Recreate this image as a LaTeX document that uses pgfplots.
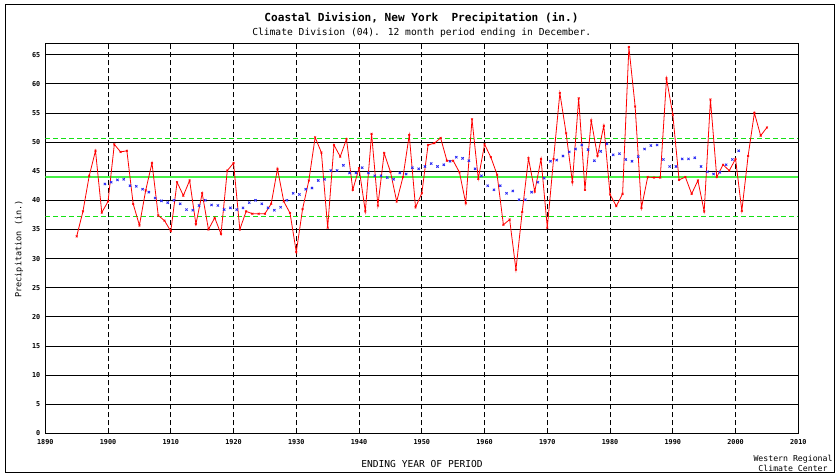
\documentclass[border=0pt]{standalone}
\usepackage{pgfplots}
\pgfplotsset{compat=1.18}
\usepackage{fontspec}
\setmainfont{DejaVu Sans Mono}
\definecolor{grn}{RGB}{20,225,20}
\definecolor{grnsolid}{RGB}{70,240,70}
\definecolor{bl}{RGB}{40,40,245}
\pgfplotstableread{
year val
1895 33.8
1896 38.1
1897 44.2
1898 48.5
1899 37.9
1900 39.8
1901 49.6
1902 48.3
1903 48.5
1904 39.4
1905 35.7
1906 41.7
1907 46.4
1908 37.4
1909 36.5
1910 34.7
1911 43.1
1912 40.8
1913 43.4
1914 35.9
1915 41.2
1916 35.0
1917 37.0
1918 34.2
1919 45.1
1920 46.4
1921 35.0
1922 38.1
1923 37.7
1924 37.7
1925 37.7
1926 39.4
1927 45.4
1928 39.8
1929 37.8
1930 31.1
1931 38.5
1932 43.4
1933 50.8
1934 48.2
1935 35.3
1936 49.5
1937 47.5
1938 50.5
1939 41.8
1940 45.5
1941 38.1
1942 51.4
1943 39.1
1944 48.1
1945 44.9
1946 39.8
1947 44.0
1948 51.2
1949 38.8
1950 41.2
1951 49.5
1952 49.8
1953 50.7
1954 46.8
1955 46.8
1956 44.8
1957 39.5
1958 53.9
1959 43.7
1960 49.6
1961 47.4
1962 44.4
1963 35.8
1964 36.7
1965 28.1
1966 38.0
1967 47.2
1968 41.5
1969 47.1
1970 35.3
1971 47.1
1972 58.4
1973 51.5
1974 43.1
1975 57.5
1976 41.8
1977 53.7
1978 47.6
1979 52.8
1980 41.0
1981 39.0
1982 41.1
1983 66.3
1984 56.1
1985 38.7
1986 44.0
1987 43.9
1988 43.9
1989 60.9
1990 54.7
1991 43.5
1992 44.0
1993 41.1
1994 43.4
1995 38.1
1996 57.3
1997 44.0
1998 46.1
1999 45.1
2000 47.1
2001 38.2
2002 47.6
2003 55.0
2004 51.1
2005 52.5
}\annual
\pgfplotstableread{
year val
1899.5 42.8
1900.5 43.1
1901.5 43.5
1902.5 43.6
1903.5 42.5
1904.5 42.4
1905.5 41.9
1906.5 41.4
1907.5 40.4
1908.5 39.9
1909.5 39.6
1910.5 40.0
1911.5 39.4
1912.5 38.4
1913.5 38.3
1914.5 39.1
1915.5 40.0
1916.5 39.2
1917.5 39.1
1918.5 38.4
1919.5 38.7
1920.5 38.4
1921.5 38.7
1922.5 39.6
1923.5 40.0
1924.5 39.4
1925.5 38.7
1926.5 38.3
1927.5 38.8
1928.5 40.0
1929.5 41.2
1930.5 41.0
1931.5 41.9
1932.5 42.1
1933.5 43.4
1934.5 43.6
1935.5 45.1
1936.5 45.1
1937.5 46.0
1938.5 44.7
1939.5 44.7
1940.5 45.6
1941.5 44.7
1942.5 44.2
1943.5 44.2
1944.5 43.9
1945.5 43.6
1946.5 44.7
1947.5 44.5
1948.5 45.6
1949.5 45.4
1950.5 45.8
1951.5 46.3
1952.5 45.8
1953.5 46.1
1954.5 46.7
1955.5 47.4
1956.5 47.2
1957.5 46.8
1958.5 45.4
1959.5 44.2
1960.5 42.5
1961.5 41.8
1962.5 42.5
1963.5 41.2
1964.5 41.6
1965.5 40.1
1966.5 40.1
1967.5 41.4
1968.5 43.1
1969.5 43.8
1970.5 46.7
1971.5 46.9
1972.5 47.6
1973.5 48.3
1974.5 48.8
1975.5 49.5
1976.5 48.7
1977.5 46.8
1978.5 48.4
1979.5 49.7
1980.5 47.8
1981.5 48.0
1982.5 47.0
1983.5 46.7
1984.5 47.5
1985.5 48.8
1986.5 49.4
1987.5 49.5
1988.5 47.0
1989.5 45.8
1990.5 45.8
1991.5 47.1
1992.5 47.1
1993.5 47.3
1994.5 45.8
1995.5 44.9
1996.5 44.5
1997.5 44.8
1998.5 46.1
1999.5 47.0
2000.5 48.5
}\running
\begin{document}
\begin{tikzpicture}[x=1pt,y=1pt]
\useasboundingbox (0,0) rectangle (835,-474);
\draw[black, line width=1pt] (5.7,-4.3) rectangle (834.5,-472.7);
\node[font=\fontsize{11.1}{13}\selectfont\bfseries] at (421.5,-18.3) {Coastal Division, New York\ \ Precipitation (in.)};
\node[font=\fontsize{9.65}{11}\selectfont] at (421.7,-33.3) {Climate Division (04). 12 month period ending in December.};
\node[font=\fontsize{9.6}{11}\selectfont] at (422,-464) {ENDING YEAR OF PERIOD};
\node[font=\fontsize{8.5}{10}\selectfont, rotate=90] at (19,-249) {Precipitation (in.)};
\node[font=\fontsize{8.2}{9}\selectfont] at (793,-459.3) {Western Regional};
\node[font=\fontsize{8.2}{9}\selectfont] at (793,-468.3) {Climate Center};
\begin{axis}[
  at={(45.3pt,-433.3pt)}, anchor=south west,
  scale only axis, width=753pt, height=390.3pt,
  xmin=1890, xmax=2010, ymin=0, ymax=67,
  xtick={1890,1900,...,2010}, ytick={0,5,...,65},
  /pgf/number format/.cd, 1000 sep={}, assume math mode=true, /pgfplots/.cd,
  major tick length=0pt,
  ticklabel style={font=\fontsize{6.8}{8}\selectfont\bfseries},
  xticklabel style={yshift=-2.5pt},
  yticklabel style={xshift=-1.5pt},
  axis line style={black, line width=0.9pt},
  xmajorgrids, ymajorgrids,
  x grid style={black, line width=0.8pt, dash pattern=on 5pt off 3pt},
  y grid style={black, line width=0.8pt},
  clip=true,
]
\addplot[grnsolid, line width=1.6pt, forget plot] coordinates {(1890,43.95) (2010,43.95)};
\addplot[grn, line width=1.2pt, dash pattern=on 5pt off 3pt, forget plot] coordinates {(1890,50.6) (2010,50.6)};
\addplot[grn, line width=1.2pt, dash pattern=on 5pt off 3pt, forget plot] coordinates {(1890,37.2) (2010,37.2)};
\addplot[only marks, bl, mark=x, mark size=1.6pt, mark options={line width=0.8pt}] table[x=year, y=val] {\running};
\addplot[red, line width=0.8pt, mark=x, mark size=1.3pt, mark options={solid, line width=0.7pt}] table[x=year, y=val] {\annual};
\end{axis}
\end{tikzpicture}
\end{document}
